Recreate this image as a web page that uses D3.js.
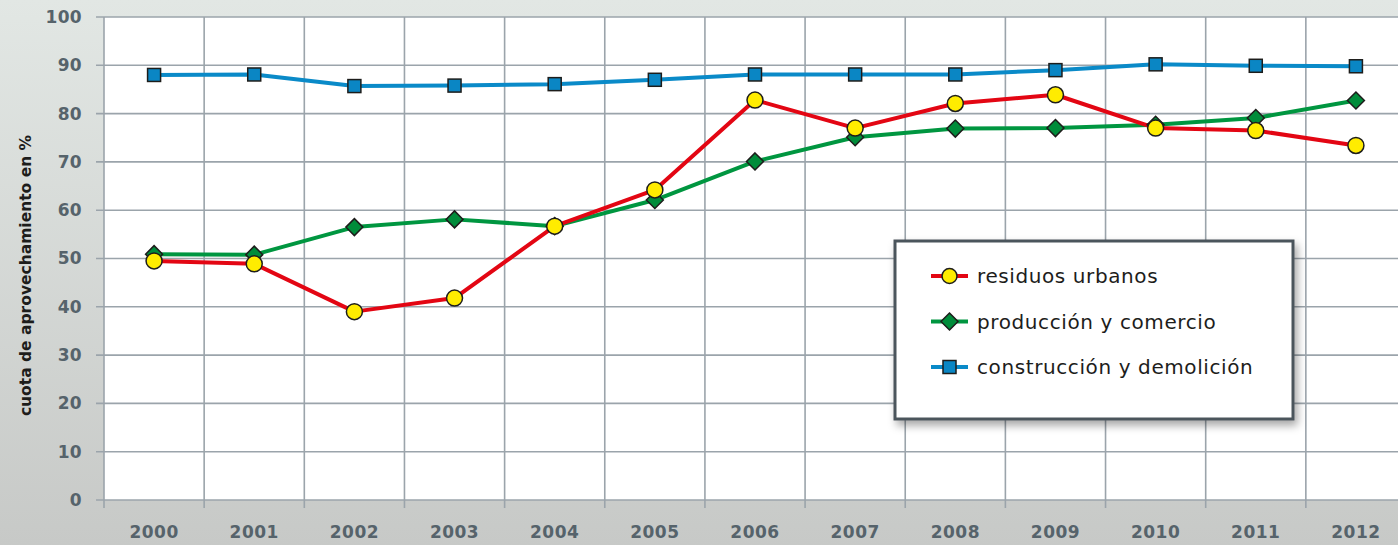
<!DOCTYPE html>
<html>
<head>
<meta charset="utf-8">
<script src="https://cdn.jsdelivr.net/npm/d3@7"></script>
<style>
  html, body { margin: 0; padding: 0; overflow: hidden; }
  body { width: 1398px; height: 545px; }
  .axis text { font-family: "DejaVu Sans", sans-serif; font-weight: bold; fill: #56636b; }
</style>
</head>
<body>
<div id="chart"></div>
<script>
// years on the x axis
var years = ["2000","2001","2002","2003","2004","2005","2006","2007","2008","2009","2010","2011","2012"]
var yTicks = [0, 10, 20, 30, 40, 50, 60, 70, 80, 90, 100]

// values (%)
var residuosUrbanos = [49.5, 48.9, 39.0, 41.8, 56.7, 64.2, 82.8, 77.0, 82.1, 83.9, 77.0, 76.5, 73.4]
var produccionComercio = [50.9, 50.8, 56.5, 58.1, 56.7, 62.1, 70.1, 75.1, 76.9, 77.0, 77.7, 79.1, 82.7]
var construccionDemolicion = [88.0, 88.1, 85.7, 85.8, 86.1, 87.0, 88.1, 88.1, 88.1, 89.0, 90.2, 89.9, 89.8]

var seriesNames = ["residuos urbanos", "producción y comercio", "construcción y demolición"]
var yTitle = "cuota de aprovechamiento en %"

var W = 1398, H = 545
var margin = {top: 17, left: 104}
var plotW = 1302, plotH = 483

var series = [
    {name: seriesNames[0], values: residuosUrbanos, line: "#e30613", fill: "#ffec00", shape: "circle"},
    {name: seriesNames[1], values: produccionComercio, line: "#009640", fill: "#008c3a", shape: "diamond"},
    {name: seriesNames[2], values: construccionDemolicion, line: "#0a8ac8", fill: "#0a86c4", shape: "square"}
]

var svg = d3.select("#chart").append("svg")
    .attr("width", W)
    .attr("height", H)

var defs = svg.append("defs")
var grad = defs.append("linearGradient").attr("id", "bg").attr("x1", 0).attr("y1", 0).attr("x2", 0).attr("y2", 1)
grad.append("stop").attr("offset", "0%").attr("stop-color", "#e2e7e4")
grad.append("stop").attr("offset", "100%").attr("stop-color", "#c7c9c7")

var shadow = defs.append("filter").attr("id", "shadow").attr("x", "-10%").attr("y", "-10%").attr("width", "130%").attr("height", "140%")
shadow.append("feDropShadow").attr("dx", 3).attr("dy", 5).attr("stdDeviation", 4).attr("flood-color", "#000").attr("flood-opacity", 0.35)

svg.append("rect").attr("width", W).attr("height", H).attr("fill", "url(#bg)")

var g = svg.append("g").attr("transform", "translate(" + margin.left + "," + margin.top + ")")

var xScale = d3.scaleBand().domain(years).range([0, plotW])
var yScale = d3.scaleLinear().domain([0, 100]).range([plotH, 0])

// plot background
g.append("rect").attr("width", plotW).attr("height", plotH).attr("fill", "#fff")

// grid lines
g.selectAll(".hgrid").data(yTicks).enter().append("line")
    .attr("x1", -8).attr("x2", plotW)
    .attr("y1", function(d) { return yScale(d) }).attr("y2", function(d) { return yScale(d) })
    .attr("stroke", "#9ba4ab").attr("stroke-width", 1.6)

var vlines = years.map(function(d) { return xScale(d) })
g.selectAll(".vgrid").data(vlines).enter().append("line")
    .attr("x1", function(d) { return d }).attr("x2", function(d) { return d })
    .attr("y1", 0).attr("y2", plotH + 8)
    .attr("stroke", "#9ba4ab").attr("stroke-width", 1.6)

// y axis labels
var yAxis = g.append("g").attr("class", "axis")
    .call(d3.axisLeft(yScale).tickValues(yTicks).tickSize(0).tickPadding(22))
yAxis.select(".domain").remove()
yAxis.selectAll("text").style("font-size", "17px").style("letter-spacing", "0.3px")

// x axis labels
var xAxis = g.append("g").attr("class", "axis")
    .attr("transform", "translate(0," + plotH + ")")
    .call(d3.axisBottom(xScale).tickSize(0).tickPadding(26))
xAxis.select(".domain").remove()
xAxis.selectAll("text").style("font-size", "17px").style("letter-spacing", "0.5px")

// y title
svg.append("text")
    .attr("transform", "translate(31," + (margin.top + plotH / 2 + 17) + ")rotate(-90)")
    .attr("text-anchor", "middle")
    .style("font-family", "DejaVu Sans, sans-serif")
    .style("font-weight", "bold")
    .style("font-size", "15.5px")
    .style("fill", "#1d1d1b")
    .text(yTitle)

var cx = function(i) { return xScale(years[i]) + xScale.bandwidth() / 2 }

function drawMarker(sel, shape, fill) {
    if (shape == "circle") {
        sel.append("circle").attr("r", 8)
    } else if (shape == "diamond") {
        sel.append("path").attr("d", "M0,-8.5L8.5,0L0,8.5L-8.5,0Z")
    } else {
        sel.append("rect").attr("x", -6.5).attr("y", -6.5).attr("width", 13).attr("height", 13)
    }
    sel.selectAll("*").attr("fill", fill).attr("stroke", "#1d1d1b").attr("stroke-width", 1.5)
}

var line = d3.line()
    .x(function(d, i) { return cx(i) })
    .y(function(d) { return yScale(d) })

// draw order: blue, green, red on top
var drawOrder = [series[2], series[1], series[0]]
drawOrder.forEach(function(s) {
    g.append("path")
        .datum(s.values)
        .attr("d", line)
        .attr("fill", "none")
        .attr("stroke", s.line)
        .attr("stroke-width", 4)
        .attr("stroke-linejoin", "round")
})
drawOrder.forEach(function(s) {
    s.values.forEach(function(v, i) {
        var m = g.append("g").attr("transform", "translate(" + cx(i) + "," + yScale(v) + ")")
        drawMarker(m, s.shape, s.fill)
    })
})

// legend
var leg = svg.append("g").attr("transform", "translate(895,241)")
leg.append("rect").attr("width", 398).attr("height", 178)
    .attr("fill", "#fff").attr("stroke", "#4b555b").attr("stroke-width", 3)
    .attr("filter", "url(#shadow)")
series.forEach(function(s, i) {
    var row = leg.append("g").attr("transform", "translate(0," + (35 + i * 45.5) + ")")
    row.append("line").attr("x1", 36).attr("x2", 73).attr("y1", 0).attr("y2", 0)
        .attr("stroke", s.line).attr("stroke-width", 4)
    var m = row.append("g").attr("transform", "translate(54.5,0)")
    drawMarker(m, s.shape, s.fill)
    m.selectAll("circle").attr("r", 7.5)
    row.append("text").attr("x", 82).attr("y", 7)
        .style("font-family", "DejaVu Sans, sans-serif")
        .style("font-size", "20px")
        .style("letter-spacing", "0.6px")
        .style("fill", "#1d1d1b")
        .text(s.name)
})
</script>
</body>
</html>
